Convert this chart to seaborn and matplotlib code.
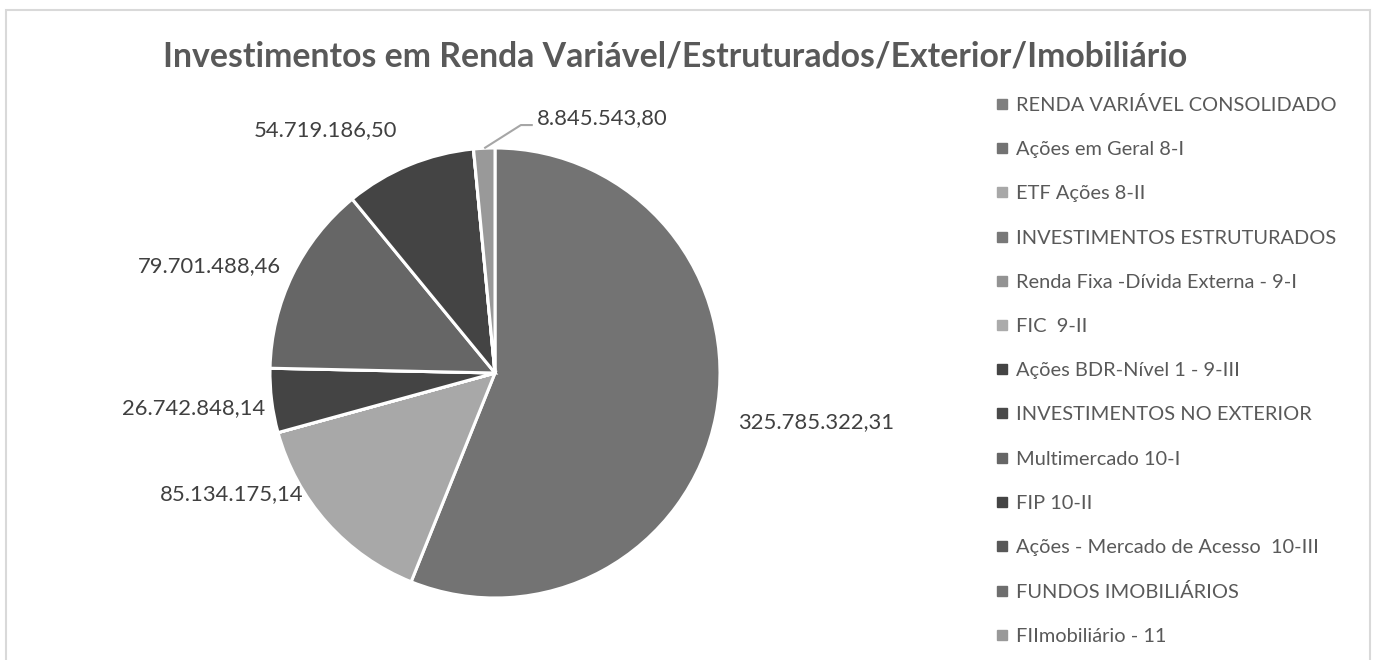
import matplotlib
matplotlib.use("Agg")
import matplotlib.pyplot as plt
import seaborn as sns
import numpy as np
from matplotlib.lines import Line2D
from matplotlib.patches import Rectangle

# categories as listed in the legend (pie order, clockwise from 12 o'clock)
categorias = [
    "RENDA VARIÁVEL CONSOLIDADO",
    "Ações em Geral 8-I",
    "ETF Ações 8-II",
    "INVESTIMENTOS ESTRUTURADOS",
    "Renda Fixa -Dívida Externa - 9-I",
    "FIC  9-II",
    "Ações BDR-Nível 1 - 9-III",
    "INVESTIMENTOS NO EXTERIOR",
    "Multimercado 10-I",
    "FIP 10-II",
    "Ações - Mercado de Acesso  10-III",
    "FUNDOS IMOBILIÁRIOS",
    "FIImobiliário - 11",
]
valores = [
    0.0,
    325785322.31,
    85134175.14,
    0.0,
    0.0,
    0.0,
    26742848.14,
    0.0,
    79701488.46,
    54719186.50,
    0.0,
    0.0,
    8845543.80,
]
cores = [
    "#7f7f7f", "#737373", "#a8a8a8", "#787878", "#939393", "#ababab", "#444444",
    "#4a4a4a", "#666666", "#444444", "#585858", "#6e6e6e", "#999999",
]

# label positions in pie-radius units (x, y, ha), for non-zero slices only
pos_rotulos = {
    1: (1.08, -0.218, "left"),
    2: (-0.85, -0.538, "right"),
    6: (-1.022, -0.156, "right"),
    8: (-0.951, 0.476, "right"),
    9: (-0.436, 1.08, "right"),
    12: (0.187, 1.133, "left"),
}


def fmt_br(v):
    s = f"{v:,.2f}"
    return s.replace(",", "X").replace(".", ",").replace("X", ".")


sns.set_theme(style="white")
plt.rcParams["font.family"] = ["Lato", "DejaVu Sans"]

W, H = 1373, 660
fig = plt.figure(figsize=(W / 100, H / 100), dpi=100)
fig.patch.set_facecolor("white")

# chart border
fig.patches.append(Rectangle((6 / W, -0.05), (1370 - 6) / W, (H - 10) / H + 0.05,
                             transform=fig.transFigure, fill=False,
                             edgecolor="#d9d9d9", lw=1.5))

cx, cy, R = 495, 373, 225
ax = fig.add_axes([(cx - R) / W, (H - cy - R) / H, 2 * R / W, 2 * R / H])

wedges, _ = ax.pie(valores, colors=cores, startangle=90, counterclock=False,
                   radius=1.0,
                   wedgeprops=dict(edgecolor="white", linewidth=2.2))
ax.set_xlim(-1, 1)
ax.set_ylim(-1, 1)
ax.set_aspect("equal")
ax.axis("off")

for i, (x, y, ha) in pos_rotulos.items():
    ax.text(x, y, fmt_br(valores[i]), ha=ha, va="center", fontsize=15.8,
            color="#404040", clip_on=False)
    if i == 12:
        w = wedges[i]
        ang = np.deg2rad((w.theta1 + w.theta2) / 2)
        ax.plot([np.cos(ang), 0.115, 0.168], [np.sin(ang), 1.102, 1.102],
                color="#a6a6a6", lw=1.5, clip_on=False, solid_capstyle="butt")

fig.text(0.5 * (163 + 1188) / W, 1 - 57 / H,
         "Investimentos em Renda Variável/Estruturados/Exterior/Imobiliário",
         ha="center", va="center", fontsize=24.3, fontweight="bold", color="#595959")

handles = [Line2D([], [], marker="s", linestyle="none", markersize=6.5,
                  markerfacecolor=c, markeredgecolor=c) for c in cores]
fig.legend(handles, categorias, loc="upper left",
           bbox_to_anchor=(989 / W, 1 - 88 / H), frameon=False,
           fontsize=14.4, labelcolor="#595959", handlelength=0.55,
           handletextpad=0.4, labelspacing=1.36, borderaxespad=0)

fig.savefig("out.png", dpi=100, facecolor="white")
